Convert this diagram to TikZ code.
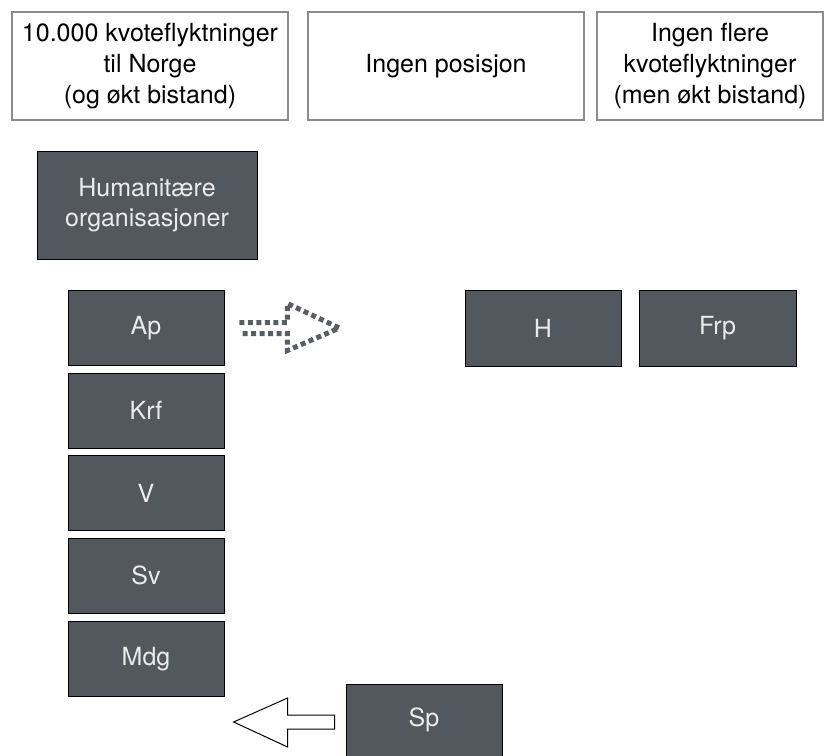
\documentclass[tikz,border=0pt]{standalone}
\usepackage{fontspec}
\setmainfont{TeX Gyre Heros}
\usetikzlibrary{calc}
\begin{document}
\begin{tikzpicture}[x=1pt,y=-1pt,
  topbox/.style={draw=black!45,line width=1.5pt,fill=white,align=center,font=\fontsize{25}{31}\selectfont,text=black,inner sep=0pt},
  party/.style={draw=black,line width=0.8pt,fill=boxgray,align=center,font=\fontsize{25}{30}\selectfont,text=white!92!black,inner sep=0pt},
  dotarrow/.style={arrgray,line width=5pt,dash pattern=on 5pt off 3.5pt},
  blockarrow/.style={black,line width=1pt,fill=white}]
\definecolor{boxgray}{HTML}{53575E}
\definecolor{arrgray}{HTML}{5A5E64}
\useasboundingbox (0,0) rectangle (835,755);
% top boxes
\node[topbox,minimum width=276pt,minimum height=108pt] (t1) at (150,66) {10.000 kvoteflyktninger\\til Norge\\(og økt bistand)};
\node[topbox,minimum width=276pt,minimum height=108pt] (t2) at (446,66) {Ingen posisjon};
\node[topbox,minimum width=226pt,minimum height=108pt] (t3) at (710,66) {Ingen flere\\kvoteflyktninger\\(men økt bistand)};
% dark boxes
\node[party,minimum width=220pt,minimum height=108pt] (hum) at (147,205) {Humanitære\\organisasjoner};
\node[party,minimum width=156pt,minimum height=75pt] (ap) at (146,328) {Ap};
\node[party,minimum width=156pt,minimum height=75pt] (krf) at (146,410.5) {Krf};
\node[party,minimum width=156pt,minimum height=75pt] (v) at (146,493) {V};
\node[party,minimum width=156pt,minimum height=75pt] (sv) at (146,575.5) {Sv};
\node[party,minimum width=156pt,minimum height=75pt] (mdg) at (146,659) {Mdg};
\node[party,minimum width=156pt,minimum height=76pt] (h) at (543,328) {H};
\node[party,minimum width=157pt,minimum height=76pt] (frp) at (717.5,328) {Frp};
\node[party,minimum width=156pt,minimum height=72pt] (sp) at (424,720) {Sp};
% dotted block arrow from Ap
\coordinate (da) at ($(ap.east)+(15,0)$);
\draw[dotarrow]
  ($(da)+(0,-5.5)$) -- ++(48,0) -- ++(0,-19) -- ++(52,24.5) -- ++(-52,22.5) -- ++(0,-17) -- ++(-48,0);
% block arrow from Sp
\coordinate (ba) at ($(sp.west)+(-11,2)$);
\draw[blockarrow]
  ($(ba)+(0,-7)$) -- ++(-47,0) -- ++(0,-17) -- ++(-54,24) -- ++(54,25) -- ++(0,-18) -- ++(47,0) -- cycle;
\end{tikzpicture}
\end{document}
